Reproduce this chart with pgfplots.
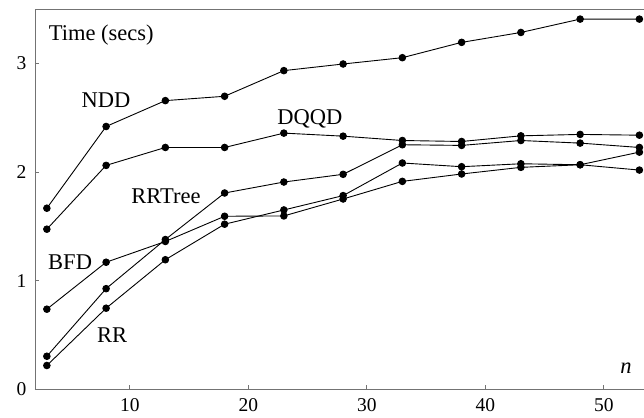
\documentclass[border=0pt]{standalone}
\usepackage{fontspec}
\setmainfont{Liberation Serif}
\usepackage{pgfplots}
\pgfplotsset{compat=1.18}

\pgfplotstableread{
n   NDD   DQQD  RRTree BFD   RR
3   1.667 1.474 0.305  0.738 0.220
8   2.419 2.061 0.927  1.170 0.747
13  2.657 2.226 1.379  1.361 1.193
18  2.697 2.226 1.807  1.593 1.520
23  2.933 2.358 1.908  1.596 1.651
28  2.994 2.330 1.979  1.752 1.783
33  3.052 2.290 2.251  1.914 2.083
38  3.193 2.281 2.245  1.982 2.049
43  3.284 2.333 2.290  2.043 2.076
48  3.407 2.346 2.266  2.067 2.067
53  3.407 2.339 2.226  2.183 2.018
}\datatable

\tikzset{ser/.style={black, line width=0.9pt, mark=*, mark size=3.3pt, mark options={solid, fill=black}}}

\begin{document}
\begin{tikzpicture}
\useasboundingbox (-35pt,-27.6pt) rectangle (609pt,389.4pt);
\begin{axis}[
  at={(0,0)}, anchor=south west,
  scale only axis, width=610.3pt, height=380.4pt,
  xmin=2, xmax=53.5, ymin=0, ymax=3.5,
  axis x line=bottom, axis y line=left,
  axis line style={-, black!55, line width=0.8pt},
  xtick={10,20,30,40,50}, ytick={0,1,2,3},
  tick align=inside, major tick length=4pt,
  tick style={black!55, line width=0.8pt},
  /pgf/number format/assume math mode=true,
  tick label style={font=\fontsize{19.5}{19.5}\selectfont, black},
  xticklabel style={yshift=-6pt},
  yticklabel style={xshift=-5pt},
  clip=false,
]
\addplot[ser] table[x=n, y=NDD] {\datatable};
\addplot[ser] table[x=n, y=DQQD] {\datatable};
\addplot[ser] table[x=n, y=RRTree] {\datatable};
\addplot[ser] table[x=n, y=BFD] {\datatable};
\addplot[ser] table[x=n, y=RR] {\datatable};
\draw[black!55, line width=0.8pt] (rel axis cs:0,1) -- (rel axis cs:1,1);
\begin{scope}[every node/.style={font=\fontsize{22.5}{22.5}\selectfont, inner sep=0pt}]
\node[anchor=west] at (axis cs:3.15,3.26) {Time (secs)};
\node[anchor=center] at (axis cs:8.0,2.662) {NDD};
\node[anchor=base] at (axis cs:25.2,2.44) {DQQD};
\node[anchor=base] at (axis cs:13.05,1.706) {RRTree};
\node[anchor=base west] at (axis cs:3.1,1.099) {BFD};
\node[anchor=base] at (axis cs:8.5,0.436) {RR};
\node[anchor=base] at (axis cs:51.87,0.142) {\itshape n};
\end{scope}
\end{axis}
\end{tikzpicture}
\end{document}
